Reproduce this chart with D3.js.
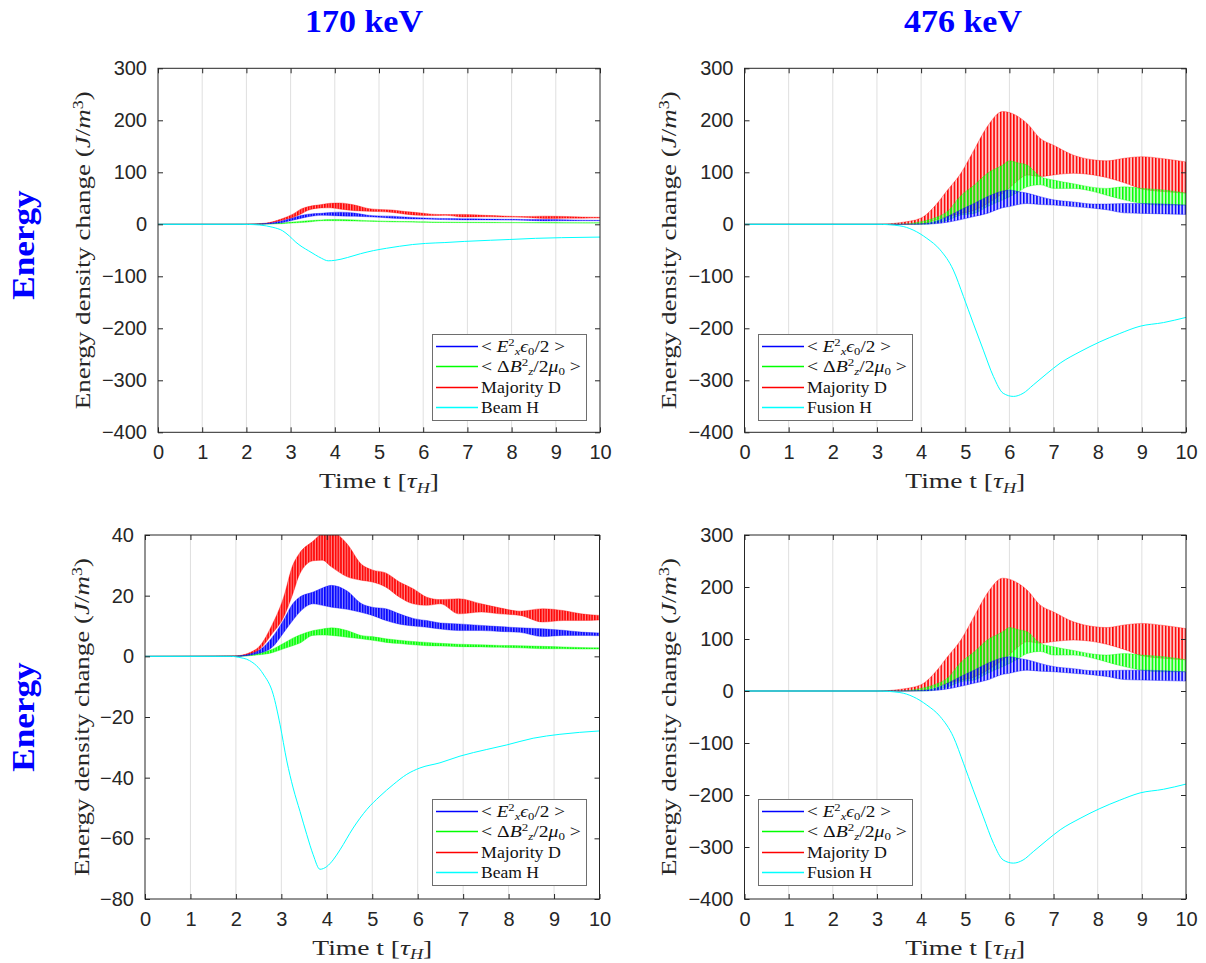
<!DOCTYPE html>
<html><head><meta charset="utf-8">
<script src="https://cdn.jsdelivr.net/npm/d3@7"></script>
<style>body{margin:0;background:#fff;} svg{display:block;} .serif{font-family:'Liberation Serif','Times New Roman',serif;} .sans{font-family:'Liberation Sans',Arial,Helvetica,sans-serif;}</style>
</head><body><svg id="chart" width="1206" height="963"></svg>
<script>
// ---------------- DATA ----------------
const columnTitles = ["170 keV", "476 keV"];
const rowTitle = "Energy";
const xTicks = [0,1,2,3,4,5,6,7,8,9,10];
const yTicksWide = [-400,-300,-200,-100,0,100,200,300];
const yTicksZoom = [-80,-60,-40,-20,0,20,40];

// 170 keV: oscillating bands given by upper / lower envelopes
const t170 = [0, 2.0, 2.45, 2.8, 3.05, 3.25, 3.4, 3.7, 3.9, 4.1, 4.45, 4.75, 5.0, 5.3, 5.6, 5.9, 6.2, 6.5, 6.9, 7.4, 7.8, 8.25, 8.75, 9.2, 9.6, 10];
const majorityHi170 = [0, 0.2, 2.4, 10.5, 19.5, 30, 34, 38, 40.5, 41, 37, 30.5, 28.5, 27.5, 24.5, 22.3, 19.5, 18.7, 19, 17.3, 16, 14.9, 15.7, 15.1, 14, 13.5];
const majorityLo170 = [0, 0, 1.5, 7.5, 12.9, 20.5, 27, 31.5, 31.7, 29.5, 26.2, 25.1, 24.5, 22.8, 19.5, 17.3, 16.8, 17.3, 14.0, 14.6, 14.0, 13.5, 11.3, 11.8, 11.8, 12.0];
const exHi170 = [0, 0.1, 1.5, 6.3, 12, 17.3, 19.5, 21.2, 22.5, 23.4, 21.5, 17.5, 16.2, 15.7, 14, 12.5, 11.8, 11, 10.7, 10.2, 9.8, 9.4, 9.1, 8.6, 8.0, 7.7];
const exLo170 = [0, 0, 0.8, 3, 7.8, 11.8, 14.5, 17.3, 16.8, 16.2, 15.5, 14.5, 13.5, 11.8, 10.6, 10.0, 9.6, 9.0, 8.5, 8.5, 8.2, 7.9, 6.5, 6.9, 6.9, 6.8];
const bzHi170 = [0, 0.1, 0.8, 2.3, 4.3, 6.0, 7.0, 8.5, 9.0, 9.4, 8.5, 6.9, 6.5, 5.8, 5.3, 4.9, 4.6, 4.3, 4.0, 3.8, 3.6, 3.5, 3.3, 3.1, 2.9, 2.8];
const bzLo170 = [0, 0, 0.4, 1.2, 2.5, 3.5, 4.3, 6.9, 7.0, 6.9, 6.3, 5.8, 5.3, 4.6, 4.2, 3.8, 3.5, 3.4, 3.2, 3.1, 3.0, 2.8, 2.5, 2.5, 2.4, 2.4];
const tBeam = [0, 1.9, 2.05, 2.3, 2.6, 2.82, 2.97, 3.12, 3.26, 3.41, 3.56, 3.7, 3.85, 4.0, 4.14, 4.29, 4.58, 4.88, 5.17, 5.46, 5.76, 6.05, 6.49, 6.93, 7.52, 7.96, 8.54, 9.13, 10];
const beamH = [0, 0, -0.3, -1.4, -5.8, -12.5, -22.4, -34.5, -43.4, -51.1, -58.8, -65.4, -70.2, -69.3, -67.1, -63.8, -56.6, -50.5, -46.1, -42.3, -38.9, -36.8, -35.1, -32.9, -30.7, -29.2, -27.0, -25.7, -24.6];

// 476 keV
const t476 = [0, 3.0, 3.5, 4.0, 4.3, 4.6, 4.9, 5.2, 5.5, 5.85, 6.0, 6.2, 6.4, 6.7, 7.0, 7.45, 7.9, 8.2, 8.6, 9.0, 9.5, 10];
const majorityHi476 = [0, 0, 3, 12, 34, 66, 98, 143, 188, 217, 215, 207, 194, 165, 152, 133, 124, 122, 127, 130, 126, 120];
const majorityLo476 = [0, 0, 0, 1, 8, 15, 21, 27, 40, 60, 70, 85, 95, 92, 95, 98, 95, 90, 80, 68, 63, 60];
const bzHi476 = [0, 0, 0, 5, 12, 25, 55, 75, 98, 114, 122, 118, 114, 92, 85, 78, 71, 69, 72, 69, 66, 60];
const bzLo476 = [0, 0, 0, 0, 2, 8, 18, 21, 34, 47, 53, 62, 72, 76, 69, 69, 63, 56, 47, 40, 37, 37];
const exHi476 = [0, 0, 0, 1, 5, 15, 28, 40, 53, 64, 66, 63, 60, 53, 47, 43, 39, 39, 40, 40, 39, 37];
const exLo476 = [0, 0, 0, 0, 1, 4, 9, 15, 21, 32, 34, 38, 40, 38, 37, 34, 31, 28, 22, 21, 20, 19];
const tFusion = [0, 3.0, 3.52, 3.82, 4.13, 4.43, 4.73, 4.96, 5.18, 5.41, 5.64, 5.86, 6.09, 6.31, 6.54, 6.85, 7.15, 7.6, 8.05, 8.5, 8.96, 9.49, 10];
const fusionH = [0, 0, -3, -11, -27, -49, -88, -139, -190, -242, -293, -325, -331, -325, -309, -287, -267, -245, -226, -210, -196, -189, -179];

const legendBeam = ["Ex", "Bz", "Majority D", "Beam H"];
const legendFusion = ["Ex", "Bz", "Majority D", "Fusion H"];

// ---------------- DRAW ----------------
const svg = d3.select('#chart');
const defs = svg.append('defs');
const COL = {Ex:'#0000ff', Bz:'#00ff00', D:'#ff0000', H:'#00ffff'};
const INK = '#262626';

// stripe patterns mimicking the fast oscillation (style only)
function makePattern(id, c, w, lw, bg){
  const p = defs.append('pattern').attr('id',id).attr('patternUnits','userSpaceOnUse').attr('width',w).attr('height',6);
  p.append('rect').attr('width',w).attr('height',6).attr('fill',c).attr('fill-opacity',bg);
  p.append('rect').attr('width',lw).attr('height',6).attr('fill',c);
}
Object.entries(COL).forEach(([k,c])=>{
  makePattern('a'+k, c, 2.7, 1.6, 0.45);
  makePattern('b'+k, c, 3.3, 1.5, 0.22);
});

function rich(textSel, segs, base){
  let shift = 0;
  segs.forEach(([s,o])=>{
    const ts = textSel.append('tspan').text(s);
    if(o.i) ts.style('font-style','italic');
    const target = o.sup ? -0.34*base : (o.sub ? 0.2*base : 0);
    if(o.sup||o.sub) ts.style('font-size', (base*0.66).toFixed(2)+'px');
    const dy = target - shift;
    if(Math.abs(dy)>0.01) ts.attr('dy', dy.toFixed(2));
    shift = target;
    if(o.dx) ts.attr('dx', o.dx);
  });
}
function fitWidth(textSel, target){
  const w = textSel.node().getBBox().width;
  if(w>0) textSel.attr('transform', `scale(${target/w},1)`);
}
function serifText(parent, size, fill){
  return parent.append('text').attr('class','serif').style('font-size',size+'px').attr('fill',fill);
}

const labelSegs = {
  Ex: s=>[['< ',{}],['E',{i:1}],['2',{sup:1}],['x',{i:1,sub:1}],['ϵ',{i:1}],['0',{sub:1}],['/2 >',{}]],
  Bz: s=>[['< ',{}],['Δ',{}],['B',{i:1}],['2',{sup:1}],['z',{i:1,sub:1}],['/2',{}],['μ',{i:1}],['0',{sub:1}],[' >',{}]],
};
const legendWidths = {Ex:84, Bz:99, 'Majority D':80, 'Beam H':58, 'Fusion H':65};

function panel(cfg){
  const x = d3.scaleLinear().domain([0,10]).range([cfg.left,cfg.right]);
  const y = d3.scaleLinear().domain([cfg.yTicks[0], cfg.yTicks[cfg.yTicks.length-1]]).range([cfg.bottom,cfg.top]);
  const g = svg.append('g');
  const cid = 'clip'+cfg.id;
  defs.append('clipPath').attr('id',cid).append('rect')
    .attr('x',cfg.left).attr('y',cfg.top).attr('width',cfg.right-cfg.left).attr('height',cfg.bottom-cfg.top);

  // vertical grid
  g.append('g').selectAll('line').data(xTicks.slice(1,-1)).join('line')
    .attr('x1',d=>x(d)).attr('x2',d=>x(d)).attr('y1',cfg.top).attr('y2',cfg.bottom)
    .attr('stroke','#dfdfdf').attr('stroke-width',1);

  const dg = g.append('g').attr('clip-path',`url(#${cid})`);
  cfg.bands.forEach(b=>{
    const idx = d3.range(b.t.length);
    const area = d3.area().x(i=>x(b.t[i])).y0(i=>y(b.lo[i])).y1(i=>y(b.hi[i])).curve(d3.curveMonotoneX);
    dg.append('path').datum(idx).attr('d',area).attr('fill',`url(#${cfg.pat}${b.key})`);
    [b.hi,b.lo].forEach(arr=>{
      const ln = d3.line().x(i=>x(b.t[i])).y(i=>y(arr[i])).curve(d3.curveMonotoneX);
      dg.append('path').datum(idx).attr('d',ln).attr('fill','none').attr('stroke',COL[b.key]).attr('stroke-width',0.7).attr('stroke-opacity',0.5);
    });
  });
  const li = d3.range(cfg.line.t.length);
  dg.append('path').datum(li)
    .attr('d', d3.line().x(i=>x(cfg.line.t[i])).y(i=>y(cfg.line.v[i])).curve(d3.curveMonotoneX))
    .attr('fill','none').attr('stroke',COL.H).attr('stroke-width',1);

  // axes
  const styleAxis = a => { a.select('.domain').remove(); a.selectAll('line').attr('stroke',INK);
    a.attr('font-family',null).attr('font-size',null);
    a.selectAll('text').attr('fill',INK).attr('class','sans').style('font-size','20px'); };
  g.append('g').attr('transform',`translate(0,${cfg.bottom})`)
    .call(d3.axisBottom(x).tickValues(xTicks).tickSize(-5).tickPadding(13).tickFormat(d3.format('d'))).call(styleAxis);
  g.append('g').attr('transform',`translate(0,${cfg.top})`)
    .call(d3.axisTop(x).tickValues(xTicks).tickSize(-5).tickFormat('')).call(styleAxis);
  g.append('g').attr('transform',`translate(${cfg.left},0)`)
    .call(d3.axisLeft(y).tickValues(cfg.yTicks).tickSize(-5).tickPadding(11).tickFormat(d3.format('d'))).call(styleAxis);
  g.append('g').attr('transform',`translate(${cfg.right},0)`)
    .call(d3.axisRight(y).tickValues(cfg.yTicks).tickSize(-5).tickFormat('')).call(styleAxis);
  g.append('rect').attr('x',cfg.left).attr('y',cfg.top).attr('width',cfg.right-cfg.left).attr('height',cfg.bottom-cfg.top)
    .attr('fill','none').attr('stroke',INK).attr('stroke-width',1);

  // x label
  const xl = serifText(g.append('g').attr('transform',`translate(${(cfg.left+cfg.right)/2},${cfg.bottom+56})`), 22, INK)
    .attr('text-anchor','middle');
  rich(xl, [['Time t ',{}],['[',{}],['τ',{i:1}],['H',{i:1,sub:1}],[']',{}]], 22);
  fitWidth(xl,120);
  // y label
  const yl = serifText(g.append('g').attr('transform',`translate(${cfg.ylabX},${(cfg.top+cfg.bottom)/2}) rotate(-90)`), 22, INK)
    .attr('text-anchor','middle');
  rich(yl, [['Energy density change ',{}],['(',{}],['J',{i:1}],['/',{}],['m',{i:1}],['3',{sup:1}],[')',{}]], 22);
  fitWidth(yl,318);

  // legend
  const L = cfg.legend;
  const lg = g.append('g').attr('transform',`translate(${L.x},${L.y})`);
  lg.append('rect').attr('x',0.5).attr('y',0.5).attr('width',154).attr('height',86).attr('fill','#fff').attr('stroke','#6e6e6e').attr('stroke-width',1);
  L.items.forEach((name,i)=>{
    const key = name==='Ex'?'Ex':name==='Bz'?'Bz':name==='Majority D'?'D':'H';
    const cy = Math.round(12 + i*20.3) + 0.5;
    lg.append('line').attr('x1',4).attr('x2',46).attr('y1',cy).attr('y2',cy).attr('stroke',COL[key]).attr('stroke-width',1.3);
    const tx = serifText(lg.append('g').attr('transform',`translate(49,${cy+5.5})`), 17, '#111');
    if(labelSegs[name]) rich(tx, labelSegs[name](17), 17); else tx.text(name);
    fitWidth(tx, legendWidths[name]);
  });
}

const bands170 = [
  {key:'D', t:t170, hi:majorityHi170, lo:majorityLo170},
  {key:'Bz', t:t170, hi:bzHi170, lo:bzLo170},
  {key:'Ex', t:t170, hi:exHi170, lo:exLo170},
];
const bands476 = [
  {key:'D', t:t476, hi:majorityHi476, lo:majorityLo476},
  {key:'Bz', t:t476, hi:bzHi476, lo:bzLo476},
  {key:'Ex', t:t476, hi:exHi476, lo:exLo476},
];

panel({id:1,pat:'a',left:158,right:600,top:68.3,bottom:432.3,yTicks:yTicksWide,bands:bands170,line:{t:tBeam,v:beamH},ylabX:90,
  legend:{x:432,y:334,items:legendBeam}});
panel({id:2,pat:'b',left:744.5,right:1186,top:68.3,bottom:432.3,yTicks:yTicksWide,bands:bands476,line:{t:tFusion,v:fusionH},ylabX:676,
  legend:{x:758,y:334,items:legendFusion}});
panel({id:3,pat:'a',left:145,right:599.5,top:535,bottom:899,yTicks:yTicksZoom,bands:bands170,line:{t:tBeam,v:beamH},ylabX:89,
  legend:{x:432,y:799,items:legendBeam}});
panel({id:4,pat:'b',left:744.5,right:1186,top:535,bottom:899,yTicks:yTicksWide,bands:bands476,line:{t:tFusion,v:fusionH},ylabX:676,
  legend:{x:758,y:799,items:legendFusion}});

// column titles
[[364,columnTitles[0]],[963,columnTitles[1]]].forEach(([cx,s])=>{
  const t = serifText(svg.append('g').attr('transform',`translate(${cx},32)`), 32, '#0000ff')
    .attr('text-anchor','middle').style('font-weight','bold').text(s);
  fitWidth(t,118);
});
// row titles
[245,717].forEach(cy=>{
  const t = serifText(svg.append('g').attr('transform',`translate(34,${cy}) rotate(-90)`), 31, '#0000ff')
    .attr('text-anchor','middle').style('font-weight','bold').text(rowTitle);
  fitWidth(t,110);
});
</script></body></html>
